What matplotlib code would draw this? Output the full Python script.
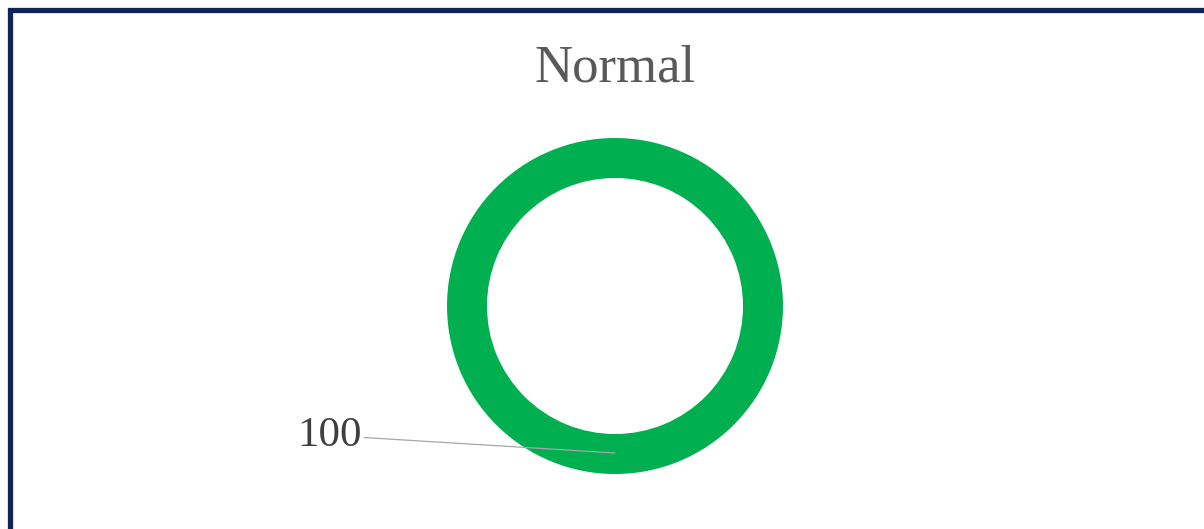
import matplotlib
matplotlib.use("Agg")
import matplotlib.pyplot as plt
from matplotlib.patches import Rectangle

categories = ["Normal"]
values = [100]
labels = ["100"]
title = "Normal"

W, H = 1204, 529
fig = plt.figure(figsize=(W / 100, H / 100), dpi=100)
fig.patch.set_facecolor("white")

# border (top/left visible, extends beyond right/bottom)
fig.add_artist(Rectangle((9.5 / W, -0.1), 1.2, (H - 9.5) / H + 0.1,
                         transform=fig.transFigure, fill=False,
                         edgecolor="#0F2557", linewidth=3.8))

cx, cy, R = 615, 306, 168
ax = fig.add_axes([(cx - R) / W, (H - cy - R) / H, 2 * R / W, 2 * R / H])
ax.pie(values, colors=["#00B050"], startangle=90, radius=1.0,
       wedgeprops=dict(width=0.238, edgecolor="none"))
ax.set_xlim(-1, 1)
ax.set_ylim(-1, 1)
ax.set_aspect("equal")
ax.axis("off")

ax.annotate(labels[0], xy=(0.0, -0.875), xytext=(-1.51, -0.77),
            ha="right", va="center", fontsize=31, color="#404040",
            family="Liberation Serif",
            arrowprops=dict(arrowstyle="-", color="#A6A6A6", lw=0.9,
                            shrinkA=0, shrinkB=0))

fig.text(615 / W, 1 - 69 / H, title, ha="center", va="center",
         fontsize=38, color="#595959", family="Liberation Serif")

fig.savefig("out.png", dpi=100)
